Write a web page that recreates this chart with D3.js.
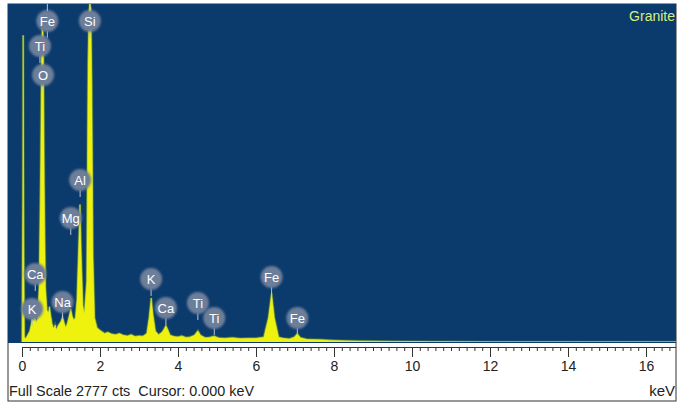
<!DOCTYPE html>
<html>
<head>
<meta charset="utf-8">
<script src="https://cdn.jsdelivr.net/npm/d3@7"></script>
<style>
  body { margin: 0; background: #fff; }
  svg { display: block; font-family: "Liberation Sans", Arial, sans-serif; }
</style>
</head>
<body>
<div id="chart-area"></div>
<script>
// spectrum: energy (keV) and counts
var energy = [0.00, 0.02, 0.03, 0.045, 0.06, 0.10, 0.15, 0.20, 0.24, 0.27, 0.30, 0.33, 0.36, 0.40,
    0.44, 0.48, 0.505, 0.525, 0.545, 0.57, 0.60, 0.64, 0.68, 0.705, 0.73, 0.77, 0.81, 0.85, 0.88,
    0.92, 0.96, 1.00, 1.04, 1.08, 1.12, 1.16, 1.20, 1.25, 1.29, 1.33, 1.37, 1.41, 1.45, 1.487,
    1.52, 1.56, 1.60, 1.66, 1.695, 1.72, 1.74, 1.765, 1.79, 1.82, 1.86, 1.92, 1.98, 2.05, 2.12,
    2.20, 2.30, 2.40, 2.50, 2.60, 2.70, 2.80, 2.90, 3.00, 3.10, 3.20, 3.26, 3.313, 3.36, 3.42,
    3.50, 3.59, 3.65, 3.69, 3.74, 3.80, 3.90, 4.00, 4.10, 4.20, 4.30, 4.42, 4.51, 4.58, 4.70,
    4.80, 4.93, 5.05, 5.20, 5.40, 5.60, 5.80, 6.00, 6.20, 6.32, 6.40, 6.47, 6.58, 6.70, 6.85,
    6.98, 7.06, 7.14, 7.30, 7.50, 7.70, 7.90, 8.10, 8.30, 8.60, 9.00, 9.50, 10.0, 10.5, 11.0,
    12.0, 14.0, 16.77];
var counts = [0, 1200, 2520, 900, 40, 30, 60, 90, 150, 210, 170, 230, 160, 190,
    450, 1500, 2450, 2650, 2500, 1300, 450, 260, 240, 290, 230, 150, 110, 140, 100,
    130, 150, 170, 205, 160, 120, 150, 200, 270, 210, 180, 200, 350, 750, 1130,
    700, 300, 230, 500, 2300, 2720, 2777, 2740, 2100, 700, 200, 120, 100, 85, 70,
    80, 65, 60, 70, 55, 50, 60, 45, 50, 48, 70, 200, 362, 220, 90,
    60, 80, 110, 135, 100, 55, 45, 42, 50, 38, 40, 55, 92, 55, 35,
    38, 48, 32, 30, 35, 28, 30, 30, 40, 200, 400, 200, 40, 30, 25,
    40, 68, 35, 22, 20, 18, 15, 12, 10, 8, 7, 5, 4, 3, 2,
    1, 0.5, 0];

// element markers
var labelText = ["Fe", "Ti", "O", "Si", "Al", "Mg", "Ca", "K", "Na", "K", "Ca", "Ti", "Ti", "Fe", "Fe"];
var labelEnergy = [0.65, 0.46, 0.54, 1.74, 1.49, 1.25, 0.34, 0.26, 1.04, 3.31, 3.69, 4.51, 4.93, 6.40, 7.06];
var labelCounts = [2637, 2432, 2194, 2637, 1331, 1019, 559, 271, 329, 518, 279, 320, 197, 534, 197];

var majorTicks = [0, 2, 4, 6, 8, 10, 12, 14, 16];

var W = 679, H = 403;
var svg = d3.select("#chart-area").append("svg")
    .attr("width", W)
    .attr("height", H);

var defs = svg.append("defs");
defs.append("filter").attr("id", "soft")
    .append("feGaussianBlur").attr("stdDeviation", 0.8);

var x = d3.scaleLinear().domain([0, 16]).range([22, 646]);
var y = d3.scaleLinear().domain([0, 2777]).range([342, 4]);

// frame
svg.append("rect")
    .attr("x", 8).attr("y", 4)
    .attr("width", 668).attr("height", 397)
    .attr("fill", "#fff")
    .attr("stroke", "#333").attr("stroke-width", 1);

svg.append("rect")
    .attr("x", 8).attr("y", 4)
    .attr("width", 668).attr("height", 339)
    .attr("fill", "#0b3a6c");

svg.append("clipPath").attr("id", "plot")
    .append("rect").attr("x", 8).attr("y", 4).attr("width", 668).attr("height", 338);

var pts = energy.map(function(e, i) { return [e, counts[i]]; });

var area = d3.area()
    .x(function(d) { return x(d[0]); })
    .y0(y(0))
    .y1(function(d) { return y(d[1]); });

var g = svg.append("g").attr("clip-path", "url(#plot)");

g.append("path")
    .datum(pts)
    .attr("d", area)
    .attr("fill", "none")
    .attr("stroke", "#3c6a3e")
    .attr("stroke-width", 2.5);

g.append("path")
    .datum(pts)
    .attr("d", area)
    .attr("fill", "#eef20c")
    .attr("stroke", "#e6ee3a")
    .attr("stroke-width", 0.6);

// marker labels
var labels = g.selectAll(".lbl")
    .data(labelText)
    .enter().append("g")
    .attr("class", "lbl")
    .attr("transform", function(d, i) {
        return "translate(" + x(labelEnergy[i]) + "," + y(labelCounts[i]) + ")";
    });

labels.append("line")
    .attr("x1", 0).attr("x2", 0)
    .attr("y1", 10).attr("y2", 17)
    .attr("stroke", "#b8c4d4").attr("stroke-width", 1);

labels.append("circle")
    .attr("r", 11)
    .attr("fill", "#6c7e99")
    .attr("filter", "url(#soft)");

labels.append("text")
    .attr("text-anchor", "middle")
    .attr("dy", "0.36em")
    .attr("fill", "#fff")
    .attr("font-size", 13)
    .text(function(d) { return d; });

// stems up to the top for the topmost markers
g.selectAll(".topstem")
    .data([0, 3])
    .enter().append("line")
    .attr("x1", function(i) { return x(labelEnergy[i]); })
    .attr("x2", function(i) { return x(labelEnergy[i]); })
    .attr("y1", 4)
    .attr("y2", function(i) { return y(labelCounts[i]) - 10; })
    .attr("stroke", "#b8c4d4").attr("stroke-width", 1);

svg.append("text")
    .attr("x", 675).attr("y", 21)
    .attr("text-anchor", "end")
    .attr("fill", "#d6ef80")
    .attr("font-size", 14)
    .text("Granite");

// axis
var minor = d3.range(0, 168, 2).map(function(v) { return v / 10; });

svg.append("g")
    .attr("transform", "translate(0,347)")
    .call(d3.axisBottom(x).tickValues(minor).tickSize(4).tickFormat(""))
    .call(function(a) {
        a.select(".domain").attr("d", "M" + x(0) + ",0.5H676").attr("stroke", "#333");
        a.selectAll("line").attr("stroke", "#333");
    });

svg.append("g")
    .attr("transform", "translate(0,347)")
    .call(d3.axisBottom(x).tickValues(majorTicks).tickSize(10).tickPadding(4).tickFormat(d3.format("d")))
    .call(function(a) {
        a.select(".domain").remove();
        a.selectAll("line").attr("stroke", "#333");
        a.selectAll("text")
            .attr("font-size", 14)
            .attr("font-family", "Liberation Sans, Arial, sans-serif")
            .attr("fill", "#222");
    });

svg.append("text")
    .attr("x", 9).attr("y", 396)
    .attr("fill", "#222")
    .attr("font-size", 14)
    .attr("textLength", 245)
    .attr("lengthAdjust", "spacingAndGlyphs")
    .style("white-space", "pre")
    .text("Full Scale 2777 cts  Cursor: 0.000 keV");

svg.append("text")
    .attr("x", 675).attr("y", 396)
    .attr("text-anchor", "end")
    .attr("fill", "#222")
    .attr("font-size", 15)
    .text("keV");
</script>
</body>
</html>
